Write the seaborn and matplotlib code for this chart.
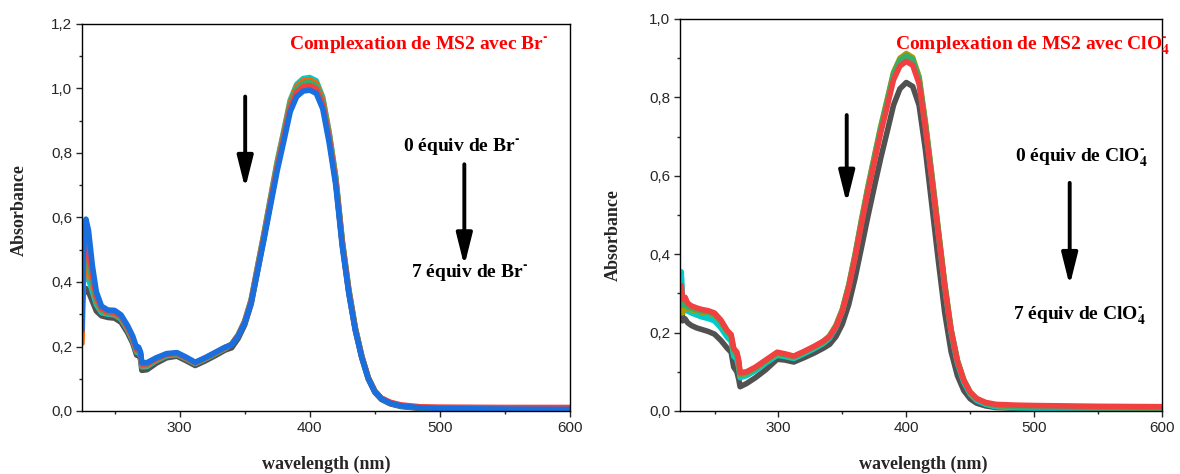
import numpy as np
import pandas as pd
import matplotlib
matplotlib.use("Agg")
import matplotlib.pyplot as plt
import seaborn as sns

# ---- left panel: MS2 + Br- (wavelength in nm, absorbance) ----
wl_br = [225, 226, 228, 230, 233, 236, 240, 245, 250, 255, 260, 264, 267, 268.5, 270, 271,
         275, 282, 290, 298, 305, 312, 320, 328, 335, 340, 345, 350, 355, 360, 365, 370,
         375, 380, 385, 390, 395, 400, 405, 410, 415, 420, 425, 430, 435, 440, 445, 450,
         455, 462, 470, 485, 500, 550, 600]

br_grey = [0.33, 0.36, 0.38, 0.37, 0.34, 0.31, 0.295, 0.290, 0.288, 0.275, 0.243, 0.210, 0.173, 0.176, 0.160, 0.126,
           0.128, 0.148, 0.165, 0.170, 0.156, 0.141, 0.156, 0.173, 0.189, 0.196, 0.225, 0.267, 0.332, 0.436, 0.541, 0.649,
           0.757, 0.850, 0.945, 0.993, 1.010, 1.013, 1.003, 0.953, 0.845, 0.712, 0.518, 0.369, 0.252, 0.165, 0.099, 0.058,
           0.036, 0.022, 0.014, 0.008, 0.006, 0.005, 0.004]
br_cyan = [0.38, 0.40, 0.42, 0.41, 0.37, 0.33, 0.305, 0.300, 0.298, 0.285, 0.252, 0.219, 0.182, 0.185, 0.170, 0.137,
           0.138, 0.156, 0.171, 0.175, 0.162, 0.147, 0.162, 0.179, 0.194, 0.208, 0.236, 0.279, 0.346, 0.451, 0.555, 0.665,
           0.774, 0.868, 0.964, 1.013, 1.031, 1.034, 1.024, 0.973, 0.863, 0.727, 0.530, 0.379, 0.260, 0.171, 0.104, 0.062,
           0.039, 0.025, 0.016, 0.010, 0.008, 0.006, 0.005]
br_orange = [0.21, 0.40, 0.47, 0.45, 0.39, 0.34, 0.310, 0.303, 0.301, 0.288, 0.255, 0.222, 0.185, 0.188, 0.173, 0.140,
             0.141, 0.158, 0.173, 0.176, 0.163, 0.148, 0.163, 0.180, 0.195, 0.207, 0.235, 0.277, 0.344, 0.448, 0.552, 0.661,
             0.769, 0.862, 0.958, 1.007, 1.024, 1.027, 1.017, 0.967, 0.858, 0.722, 0.527, 0.377, 0.258, 0.170, 0.103, 0.062,
             0.040, 0.025, 0.017, 0.011, 0.009, 0.008, 0.007]
br_green = [0.36, 0.43, 0.50, 0.47, 0.40, 0.345, 0.313, 0.305, 0.303, 0.290, 0.257, 0.224, 0.187, 0.190, 0.175, 0.142,
            0.143, 0.160, 0.174, 0.177, 0.164, 0.149, 0.164, 0.181, 0.196, 0.206, 0.234, 0.276, 0.341, 0.445, 0.548, 0.656,
            0.763, 0.855, 0.950, 0.999, 1.016, 1.019, 1.009, 0.959, 0.851, 0.717, 0.523, 0.374, 0.256, 0.169, 0.103, 0.061,
            0.039, 0.025, 0.016, 0.010, 0.008, 0.007, 0.006]
br_red = [0.33, 0.45, 0.53, 0.50, 0.42, 0.355, 0.318, 0.308, 0.306, 0.293, 0.260, 0.227, 0.190, 0.193, 0.178, 0.145,
          0.146, 0.162, 0.176, 0.179, 0.165, 0.150, 0.165, 0.182, 0.197, 0.206, 0.234, 0.275, 0.339, 0.441, 0.543, 0.649,
          0.756, 0.847, 0.941, 0.989, 1.006, 1.009, 0.999, 0.950, 0.843, 0.710, 0.518, 0.370, 0.254, 0.168, 0.102, 0.062,
          0.040, 0.027, 0.019, 0.013, 0.012, 0.011, 0.011]
br_blue = [0.25, 0.48, 0.595, 0.56, 0.45, 0.37, 0.325, 0.313, 0.312, 0.298, 0.265, 0.232, 0.196, 0.198, 0.183, 0.150,
           0.150, 0.165, 0.178, 0.181, 0.167, 0.151, 0.166, 0.183, 0.198, 0.205, 0.232, 0.272, 0.335, 0.435, 0.535, 0.640,
           0.745, 0.835, 0.928, 0.975, 0.992, 0.995, 0.985, 0.937, 0.830, 0.700, 0.510, 0.365, 0.250, 0.165, 0.100, 0.060,
           0.038, 0.024, 0.016, 0.010, 0.008, 0.006, 0.005]

# ---- right panel: MS2 + ClO4- ----
wl_clo4 = [224, 225, 227, 229, 232, 236, 240, 245, 250, 255, 260, 263, 265, 267.5, 269, 270,
           275, 282, 290, 299, 305, 312, 320, 328, 335, 340, 345, 350, 355, 360, 365, 370,
           375, 380, 385, 390, 395, 400, 405, 410, 415, 420, 425, 430, 435, 440, 445, 450,
           455, 462, 470, 485, 500, 550, 600]

clo4_grey = [0.34, 0.23, 0.235, 0.225, 0.218, 0.212, 0.208, 0.203, 0.196, 0.180, 0.160, 0.150, 0.112, 0.100, 0.080, 0.062,
             0.070, 0.085, 0.105, 0.132, 0.130, 0.125, 0.136, 0.148, 0.160, 0.170, 0.190, 0.222, 0.272, 0.340, 0.418, 0.497,
             0.572, 0.645, 0.712, 0.780, 0.822, 0.838, 0.828, 0.780, 0.665, 0.525, 0.385, 0.252, 0.152, 0.090, 0.052, 0.031,
             0.020, 0.013, 0.009, 0.007, 0.006, 0.005, 0.004]
clo4_cyan = [0.355, 0.27, 0.26, 0.255, 0.25, 0.245, 0.240, 0.236, 0.230, 0.212, 0.188, 0.178, 0.140, 0.132, 0.110, 0.085,
             0.090, 0.103, 0.122, 0.142, 0.139, 0.134, 0.146, 0.159, 0.172, 0.186, 0.213, 0.255, 0.317, 0.396, 0.483, 0.566,
             0.642, 0.718, 0.785, 0.855, 0.890, 0.902, 0.892, 0.843, 0.725, 0.592, 0.455, 0.318, 0.201, 0.122, 0.073, 0.043,
             0.027, 0.017, 0.011, 0.008, 0.007, 0.006, 0.005]
clo4_olive = [0.30, 0.25, 0.262, 0.262, 0.258, 0.255, 0.252, 0.250, 0.244, 0.226, 0.200, 0.190, 0.152, 0.144, 0.120, 0.092,
              0.096, 0.108, 0.127, 0.147, 0.143, 0.138, 0.150, 0.163, 0.176, 0.192, 0.219, 0.260, 0.322, 0.401, 0.489, 0.573,
              0.650, 0.726, 0.794, 0.864, 0.900, 0.912, 0.902, 0.853, 0.736, 0.603, 0.465, 0.327, 0.209, 0.129, 0.079, 0.048,
              0.031, 0.020, 0.014, 0.011, 0.010, 0.009, 0.008]
clo4_green = [0.31, 0.27, 0.27, 0.265, 0.262, 0.258, 0.255, 0.252, 0.246, 0.228, 0.202, 0.192, 0.155, 0.146, 0.123, 0.094,
              0.097, 0.109, 0.128, 0.148, 0.144, 0.139, 0.151, 0.164, 0.177, 0.191, 0.217, 0.258, 0.320, 0.398, 0.486, 0.569,
              0.646, 0.722, 0.790, 0.860, 0.895, 0.907, 0.897, 0.848, 0.731, 0.599, 0.461, 0.324, 0.207, 0.128, 0.078, 0.047,
              0.031, 0.020, 0.014, 0.011, 0.010, 0.009, 0.008]
clo4_red = [0.32, 0.285, 0.29, 0.275, 0.268, 0.263, 0.259, 0.256, 0.250, 0.232, 0.205, 0.195, 0.160, 0.150, 0.128, 0.098,
            0.100, 0.112, 0.130, 0.150, 0.146, 0.140, 0.152, 0.165, 0.178, 0.190, 0.215, 0.255, 0.315, 0.392, 0.478, 0.560,
            0.635, 0.710, 0.776, 0.845, 0.880, 0.892, 0.882, 0.835, 0.720, 0.590, 0.455, 0.320, 0.205, 0.127, 0.078, 0.048,
            0.032, 0.022, 0.017, 0.015, 0.014, 0.012, 0.011]

br_curves = {"grey": br_grey, "cyan": br_cyan, "orange": br_orange,
             "green": br_green, "red": br_red, "blue": br_blue}
clo4_curves = {"grey": clo4_grey, "cyan": clo4_cyan, "olive": clo4_olive,
               "green": clo4_green, "red": clo4_red}

colors = {"grey": "#515151", "cyan": "#00CBCC", "orange": "#FB6501", "green": "#37AD6B",
          "red": "#F14040", "blue": "#1A6FDF", "olive": "#B09A00"}


def to_long(wl, curves):
    frames = [pd.DataFrame({"wl": wl, "abs": vals, "curve": name}) for name, vals in curves.items()]
    return pd.concat(frames, ignore_index=True)


sns.set_theme(style="ticks")
plt.rcParams["font.family"] = ["Liberation Sans", "DejaVu Sans"]
plt.rcParams["mathtext.fontset"] = "stix"

serif = "Liberation Serif"

fig = plt.figure(figsize=(11.8, 4.74), dpi=100)
ax1 = fig.add_axes([82 / 1180, 1 - 411 / 474, 488 / 1180, 387 / 474])
ax2 = fig.add_axes([680 / 1180, 1 - 411 / 474, 482 / 1180, 392 / 474])

panels = [
    (ax1, wl_br, br_curves, (225, 600), 1.2),
    (ax2, wl_clo4, clo4_curves, (223, 600), 1.0),
]

for ax, wl, curves, xlim, ytop in panels:
    df = to_long(wl, curves)
    order = list(curves.keys())
    sns.lineplot(data=df, x="wl", y="abs", hue="curve", hue_order=order,
                 palette=[colors[k] for k in order], lw=4.0, sort=False,
                 legend=False, ax=ax)
    ax.set_xlim(*xlim)
    ax.set_ylim(0, ytop)
    ax.set_xticks([300, 400, 500, 600])
    ax.set_xticks([250, 350, 450, 550], minor=True)
    yt = np.round(np.arange(0, ytop + 0.001, 0.2), 1)
    ax.set_yticks(yt)
    ax.set_yticklabels([f"{v:.1f}".replace(".", ",") for v in yt])
    ax.set_yticks(np.round(np.arange(0.1, ytop, 0.2), 1), minor=True)
    ax.tick_params(which="major", direction="out", length=4, width=1, labelsize=11, pad=3)
    ax.tick_params(which="minor", direction="out", length=2.5, width=1)
    for sp in ax.spines.values():
        sp.set_linewidth(1.0)
        sp.set_color("black")
    ax.set_xlabel("wavelength (nm)", family=serif, fontweight="bold", fontsize=13)
    ax.set_ylabel("Absorbance", family=serif, fontweight="bold", fontsize=13)

ax1.xaxis.set_label_coords(0.5, -0.115)
ax1.yaxis.set_label_coords(-0.112, 0.52)
ax2.xaxis.set_label_coords(0.504, -0.115)
ax2.yaxis.set_label_coords(-0.12, 0.45)

arrow = dict(arrowstyle="-|>,head_width=0.3,head_length=1.2", lw=2.8, color="black",
             mutation_scale=16, shrinkA=0, shrinkB=0)
txt = dict(family=serif, fontweight="bold", fontsize=14, ha="center", va="center")
minus = r"$^{\mathbf{‐}}$"
sub4 = r"$_{\mathbf{4}}^{\mathbf{‐}}$"

# left panel annotations
ax1.text(483.5, 1.135, "Complexation de MS2 avec Br" + minus, color="#FF0000", **txt)
ax1.text(517, 0.82, "0 équiv de Br" + minus, color="black", **txt)
ax1.text(523, 0.43, "7 équiv de Br" + minus, color="black", **txt)
ax1.annotate("", xy=(350.4, 0.69), xytext=(350.4, 0.975), arrowprops=arrow)
ax1.annotate("", xy=(518.8, 0.45), xytext=(518.8, 0.765), arrowprops=arrow)

# right panel annotations
ax2.text(498.5, 0.932, "Complexation de MS2 avec ClO" + sub4, color="#FF0000", **txt)
ax2.text(537, 0.645, "0 équiv de ClO" + sub4, color="black", **txt)
ax2.text(535.5, 0.242, "7 équiv de ClO" + sub4, color="black", **txt)
ax2.annotate("", xy=(353.4, 0.53), xytext=(353.4, 0.755), arrowprops=arrow)
ax2.annotate("", xy=(527.8, 0.32), xytext=(527.8, 0.582), arrowprops=arrow)

fig.savefig("out.png", dpi=100)
